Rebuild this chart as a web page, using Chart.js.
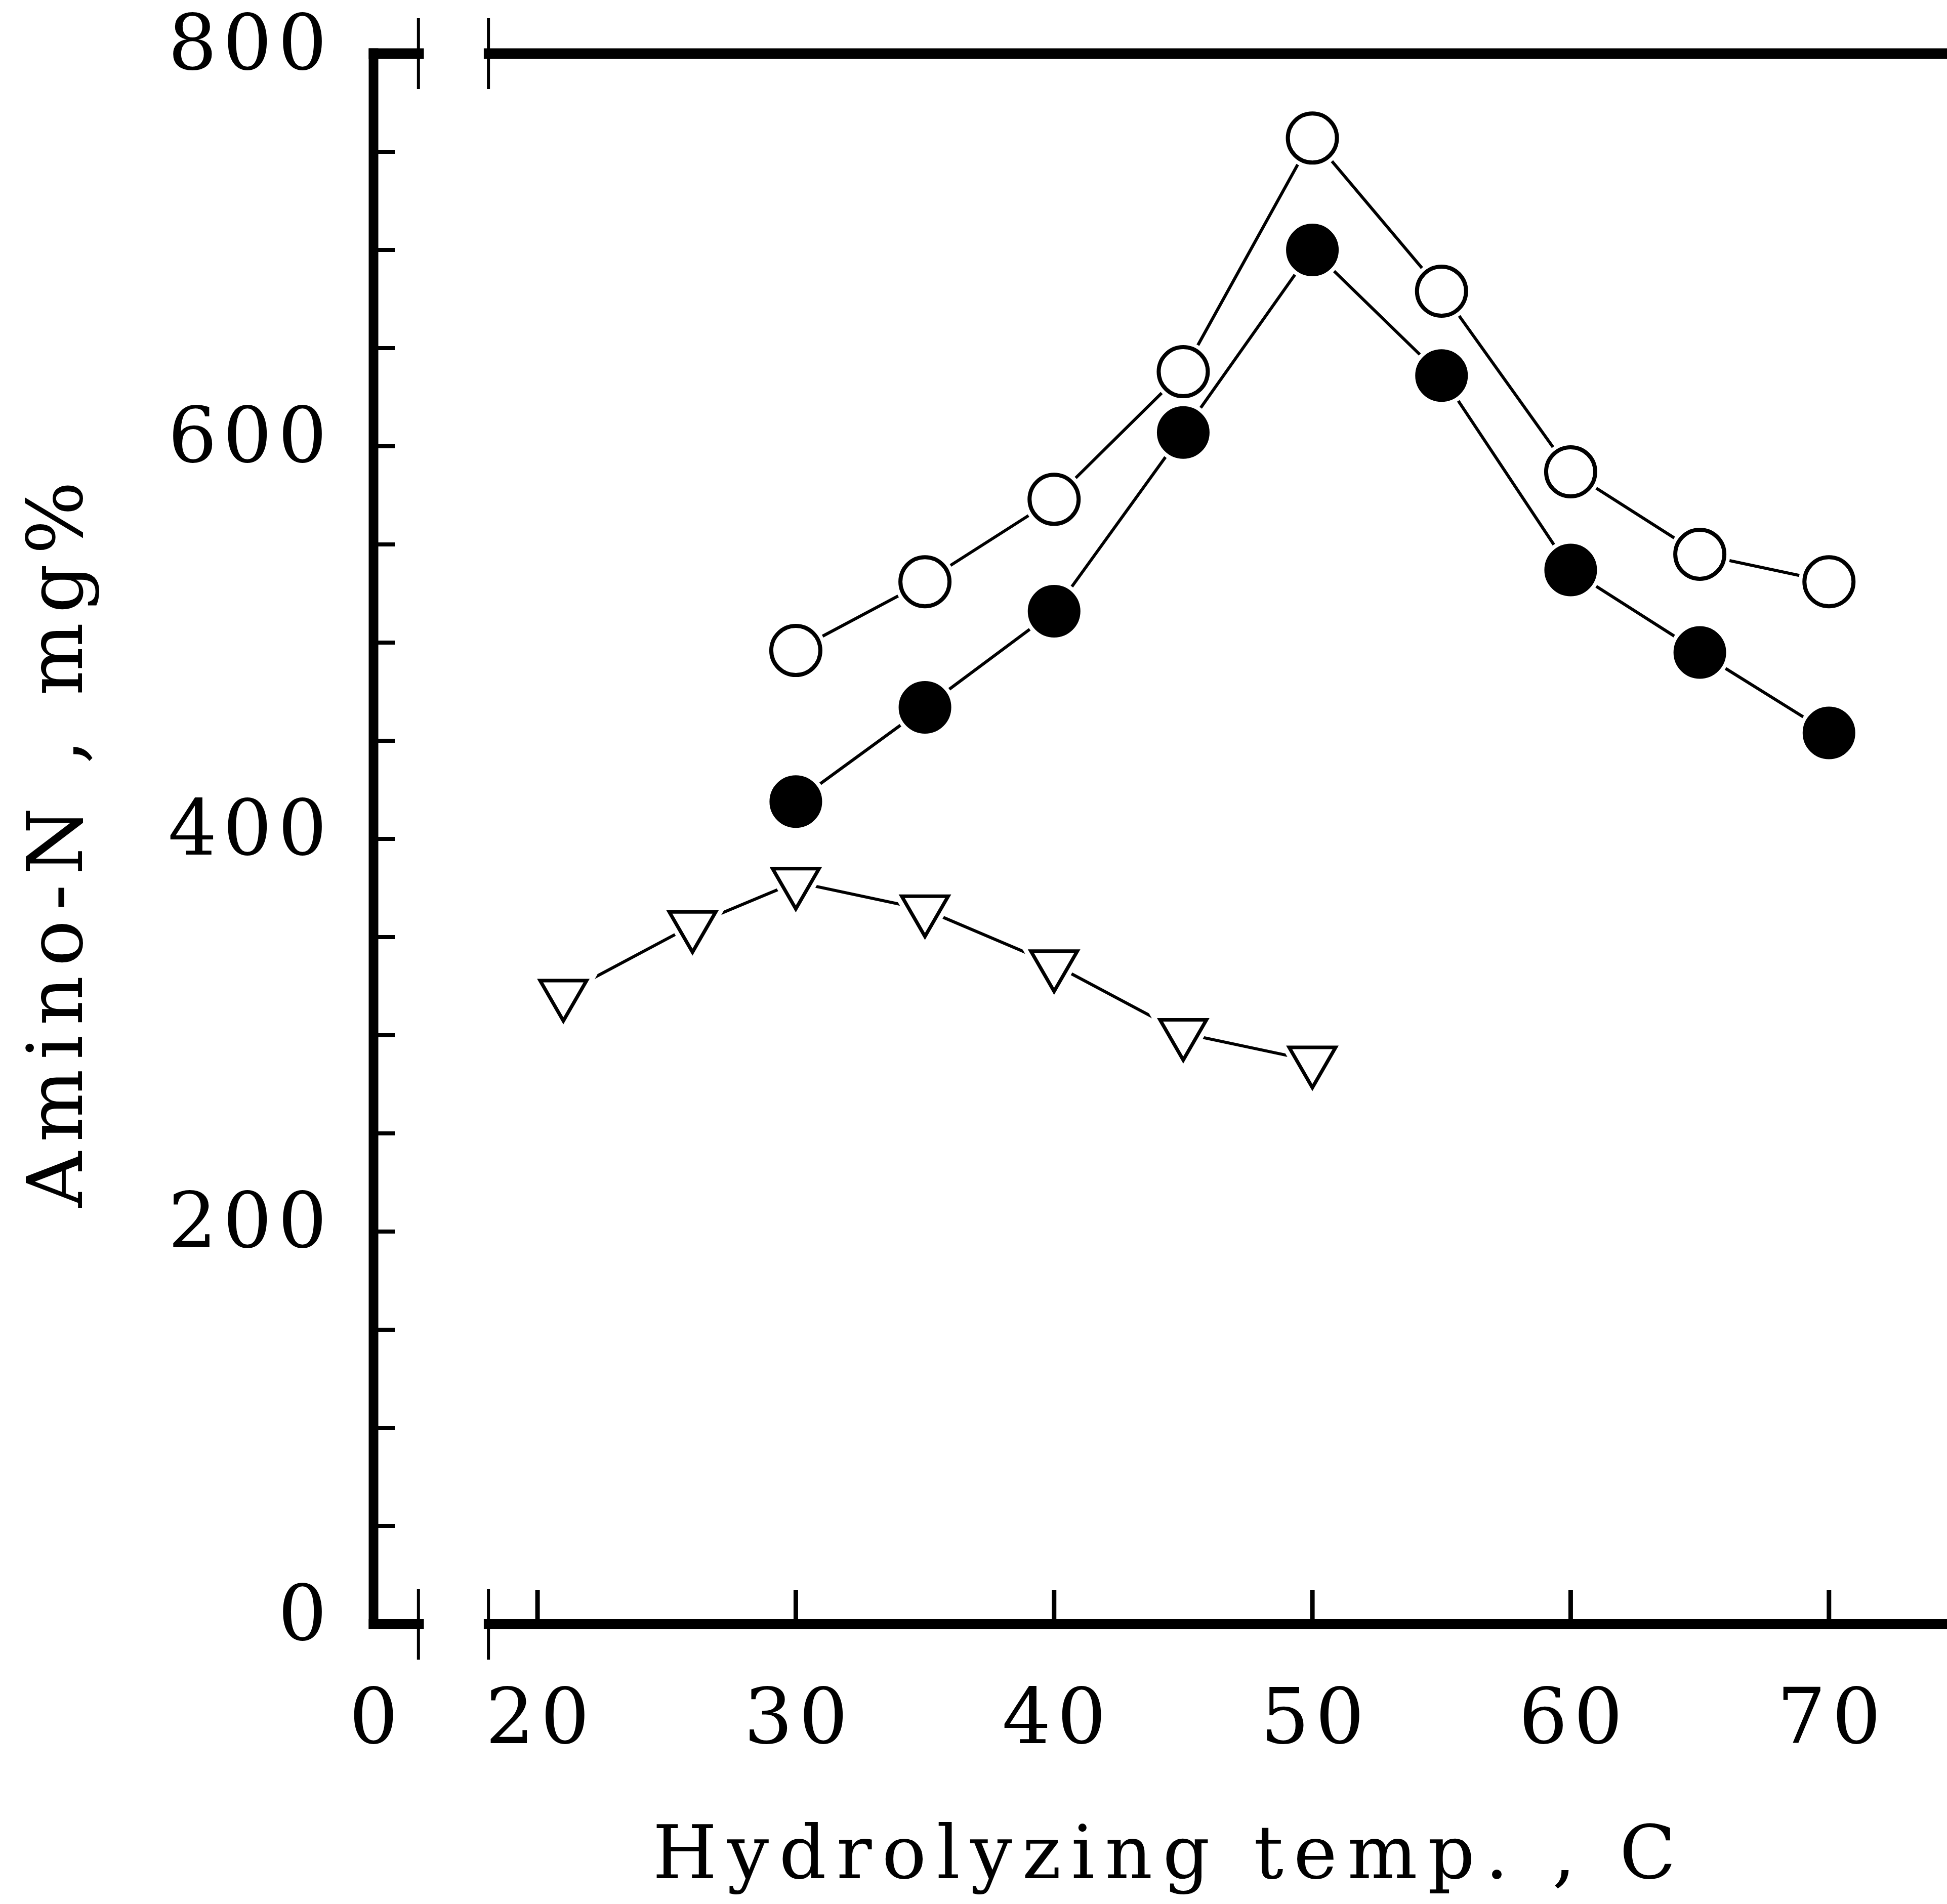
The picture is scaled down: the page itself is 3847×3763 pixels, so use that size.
<!DOCTYPE html>
<html>
<head>
<meta charset="utf-8">
<script src="https://cdn.jsdelivr.net/npm/chart.js@4/dist/chart.umd.min.js"></script>
<style>
  html, body { margin: 0; padding: 0; background: #fff; overflow: hidden; }
  canvas { display: block; }
</style>
</head>
<body>
<canvas id="chart" width="3847" height="3763"></canvas>
<script>
// ---------------- Data ----------------
const temps = [30, 35, 40, 45, 50, 55, 60, 65, 70];
const openCircle = [496, 531, 573, 638, 757, 679, 587, 545, 531];
const filledCircle = [419, 467, 516, 607, 700, 636, 537, 495, 454];
const triangleTemps = [21, 26, 30, 35, 40, 45, 50];
const triangle = [321, 356, 378, 364, 336, 301, 287];

const xTickValues = [20, 30, 40, 50, 60, 70];
const xTickLabels = ["0", "20", "30", "40", "50", "60", "70"];
const yTickValues = [0, 50, 100, 150, 200, 250, 300, 350, 400, 450, 500, 550, 600, 650, 700, 750, 800];
const yLabelValues = [0, 200, 400, 600, 800];

const xTitle = "Hydrolyzing temp. , C";
const yTitle = "Amino-N , mg%";

// broken x axis: "0" sits on the y axis, the scale restarts before 20
const X_MIN = 13.65;
const X_MAX = 74.57;
const breakMarks = [15.39, 18.1];
const breakGap = [15.6, 17.92];

const FONT = '"DejaVu Serif", "Liberation Serif", serif';

const pts = (xs, ys) => xs.map((x, i) => ({ x, y: ys[i] }));

// ---------------- Datasets ----------------
function series(data, marker) {
  const line = {
    data, showLine: true, borderColor: "#000", borderWidth: 6,
    pointRadius: 0, order: 3,
  };
  const halo = {
    data, showLine: false, pointStyle: marker.style, rotation: marker.rotation || 0,
    pointRadius: marker.halo, pointBackgroundColor: "#fff", pointBorderWidth: 0,
    order: 2,
  };
  const mark = {
    data, showLine: false, pointStyle: marker.style, rotation: marker.rotation || 0,
    pointRadius: marker.radius, pointBorderWidth: marker.border,
    pointBorderColor: "#000", pointBackgroundColor: marker.fill, order: 1,
  };
  return [line, halo, mark];
}

const datasets = [
  ...series(pts(temps, openCircle), { style: "circle", radius: 48.5, border: 8, fill: "#fff", halo: 60 }),
  ...series(pts(temps, filledCircle), { style: "circle", radius: 48, border: 8, fill: "#000", halo: 60 }),
  ...series(pts(triangleTemps, triangle), { style: "triangle", rotation: 180, radius: 53, border: 7, fill: "#fff", halo: 78 }),
];

// ---------------- Frame, ticks, titles ----------------
const axesFrame = {
  id: "axesFrame",
  beforeDraw(chart) {
    chart.ctx.letterSpacing = "12px";
  },
  afterDraw(chart) {
    const { ctx, scales: { x, y } } = chart;
    const left = x.getPixelForValue(X_MIN);
    const right = x.right;
    const y0 = y.getPixelForValue(0);
    const yTop = y.getPixelForValue(800);
    const seg = (x1, y1, x2, y2, w) => {
      ctx.lineWidth = w;
      ctx.beginPath();
      ctx.moveTo(x1, y1);
      ctx.lineTo(x2, y2);
      ctx.stroke();
    };
    ctx.save();
    ctx.strokeStyle = "#000";
    ctx.lineCap = "butt";

    const gapL = x.getPixelForValue(breakGap[0]);
    const gapR = x.getPixelForValue(breakGap[1]);
    seg(left, yTop - 10.5, left, y0 + 10, 19);
    seg(left - 9.5, yTop, gapL, yTop, 21);
    seg(gapR, yTop, right, yTop, 21);
    seg(left - 9.5, y0, gapL, y0, 20);
    seg(gapR, y0, right, y0, 20);
    breakMarks.forEach((b) => {
      const px = x.getPixelForValue(b);
      seg(px, yTop - 70, px, yTop + 70, 6);
      seg(px, y0 - 70, px, y0 + 70, 6);
    });

    // inward ticks
    yTickValues.forEach((v) => {
      if (v === 0 || v === 800) return;
      const py = y.getPixelForValue(v);
      seg(left, py, left + 42, py, 8);
    });
    xTickValues.forEach((v) => {
      const px = x.getPixelForValue(v);
      seg(px, y0, px, y0 - 68, 9);
    });

    // axis titles
    ctx.fillStyle = "#000";
    ctx.textAlign = "center";
    ctx.textBaseline = "alphabetic";
    ctx.font = `146px ${FONT}`;
    ctx.letterSpacing = "20px";
    ctx.fillText(xTitle, (left + chart.width) / 2 + 18, chart.height - 51);

    ctx.font = `152px ${FONT}`;
    ctx.letterSpacing = "19px";
    ctx.translate(162, (yTop + y0) / 2 + 10);
    ctx.rotate(-Math.PI / 2);
    ctx.fillText(yTitle, 9, 0);
    ctx.restore();
  },
};

new Chart(document.getElementById("chart"), {
  type: "scatter",
  data: { datasets },
  plugins: [axesFrame],
  options: {
    responsive: false,
    animation: false,
    devicePixelRatio: 1,
    layout: { autoPadding: false, padding: { top: 106, right: 0, left: 0, bottom: 0 } },
    plugins: { legend: { display: false }, tooltip: { enabled: false } },
    scales: {
      x: {
        type: "linear",
        min: X_MIN,
        max: X_MAX,
        afterBuildTicks: (axis) => {
          axis.ticks = [X_MIN, ...xTickValues].map((v) => ({ value: v }));
        },
        afterFit: (axis) => {
          axis.height = 553;
          axis.paddingLeft = 0;
          axis.paddingRight = 0;
        },
        grid: { display: false, drawTicks: false },
        border: { display: false },
        ticks: {
          autoSkip: false,
          maxRotation: 0,
          color: "#000",
          padding: 104,
          labelOffset: 6,
          font: { family: FONT, size: 152 },
          callback: (v, i) => xTickLabels[i],
        },
      },
      y: {
        type: "linear",
        min: 0,
        max: 800,
        afterBuildTicks: (axis) => {
          axis.ticks = yTickValues.map((v) => ({ value: v }));
        },
        afterFit: (axis) => {
          axis.width = 738;
          axis.paddingTop = 0;
          axis.paddingBottom = 0;
        },
        grid: { display: false, drawTicks: false },
        border: { display: false },
        ticks: {
          autoSkip: false,
          color: "#000",
          padding: 80,
          labelOffset: -8,
          font: { family: FONT, size: 152 },
          callback: (v) => (yLabelValues.includes(v) ? String(v) : ""),
        },
      },
    },
  },
});
</script>
</body>
</html>
